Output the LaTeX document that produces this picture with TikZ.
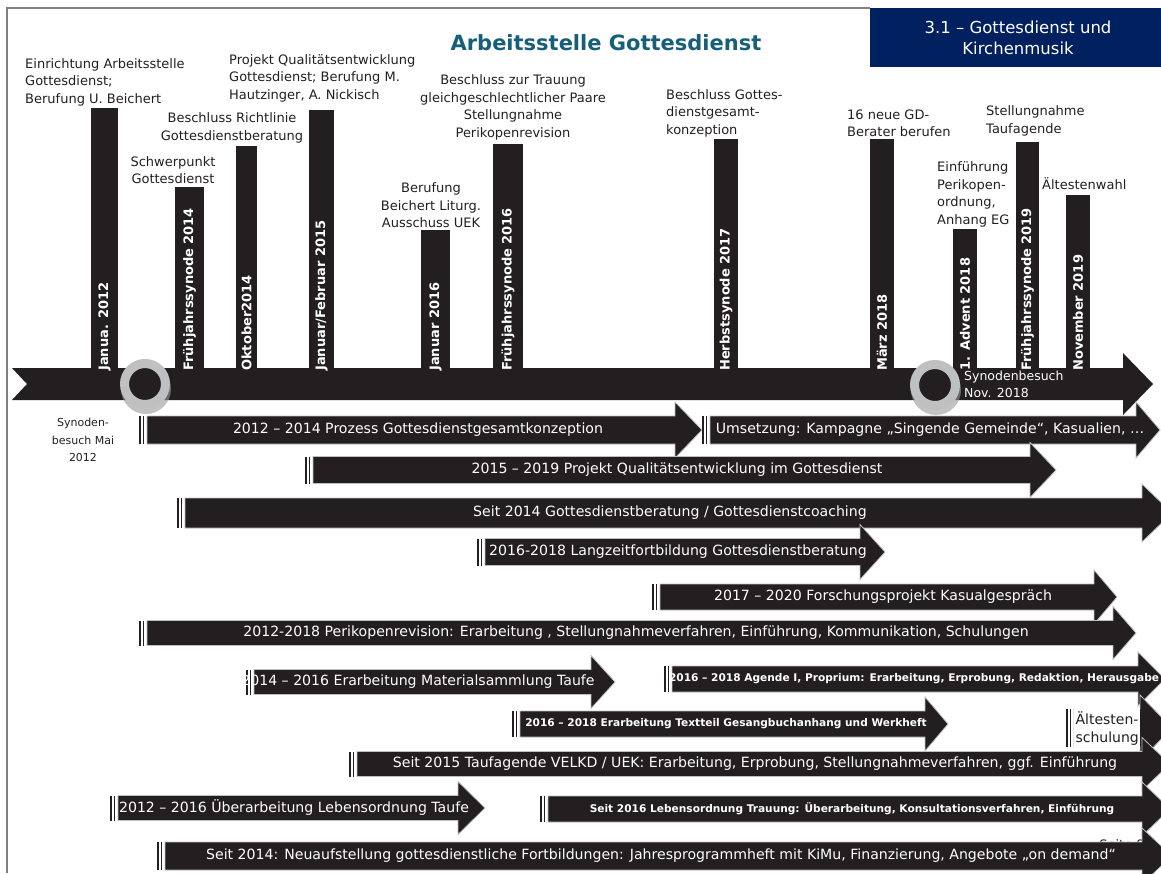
\documentclass[tikz,border=0pt]{standalone}
\usepackage{fontspec}
\setmainfont{DejaVu Sans}
\usetikzlibrary{calc}
\definecolor{ink}{RGB}{35,31,32}
\definecolor{titleteal}{RGB}{22,95,122}
\definecolor{boxblue}{RGB}{0,32,96}
\definecolor{ringgray}{RGB}{190,192,194}
\newcommand\fontreg{\fontsize{14.1}{16}\selectfont}
\newcommand\fontbold{\bfseries\fontsize{10.6}{12}\selectfont}

\begin{document}
\begin{tikzpicture}
	[x=1pt,y=-1pt,
   lbl/.style={text=ink,font=\fontsize{13}{17.5}\selectfont,inner sep=0pt},
   datetxt/.style={text=white,font=\bfseries\fontsize{13}{15}\selectfont,rotate=90,anchor=west,inner sep=0pt},
   phase/.style={fill=ink,draw=black!25,line width=0.8pt},
   ptxt/.style={text=white,inner sep=0pt},
   ring/.style={circle,draw=ringgray,line width=9pt,fill=ink,minimum size=41pt,inner sep=0pt}
  ]
  \useasboundingbox (0,0) rectangle (1161,873);

  % frame and heading
  \draw[black!50,line width=1.2pt] (7,873) -- (7,8) -- (870,8);
  \fill[boxblue] (870,8) rectangle (1161,67);
  \node[text=white,font=\fontsize{16.5}{21}\selectfont,align=center] (kapitel) at (1018,38) {3.1 – Gottesdienst und\\Kirchenmusik};
  \node[text=titleteal,font=\bfseries\fontsize{21}{24}\selectfont] (titel) at (606,43) {Arbeitsstelle Gottesdienst};

  % timeline
  \fill[ink] (12,368) -- (1123,368) -- (1123,353) -- (1153,384) -- (1123,415) -- (1123,400) -- (12,400) -- (27,384) -- cycle;
  \foreach \n/\xl/\xr/\yt/\date in {1/91/118/108/Janua. 2012, 2/175/204/187/Frühjahrssynode 2014,
      3/236/257/146/Oktober2014, 4/309/334/110/Januar\slash Februar 2015, 5/421/450/230/Januar 2016,
      6/493/523/144/Frühjahrssynode 2016, 7/714/738/139/Herbstsynode 2017, 8/870/894/139/März 2018,
      9/953/977/229/1. Advent 2018, 10/1016/1039/142/Frühjahrssynode 2019, 11/1066/1090/195/November 2019}
  {
    \fill[ink] (\xl,\yt) rectangle (\xr,369);
    \node[datetxt] (date\n) at ({(\xl+\xr)/2},371) {\date};
  }

  % notes above the milestones
  \node[lbl,align=left,anchor=south west] (note1) at (25,106) {Einrichtung Arbeitsstelle\\Gottesdienst;\\Berufung U. Beichert};
  \node[lbl,align=center,anchor=south] (note2) at (173,184) {Schwerpunkt\\Gottesdienst};
  \node[lbl,align=center,anchor=south] (note3) at (232,143) {Beschluss Richtlinie\\Gottesdienstberatung};
  \node[lbl,align=left,anchor=south west] (note4) at (229,102) {Projekt Qualitätsentwicklung\\Gottesdienst; Berufung M.\\Hautzinger, A. Nickisch};
  \node[lbl,align=center,anchor=south] (note5) at (431,228) {Berufung\\Beichert Liturg.\\Ausschuss UEK};
  \node[lbl,align=center,anchor=south] (note6) at (513,140) {Beschluss zur Trauung\\gleichgeschlechtlicher Paare\\Stellungnahme\\Perikopenrevision};
  \node[lbl,align=left,anchor=south west] (note7) at (666,137) {Beschluss Gottes-\\dienstgesamt-\\konzeption};
  \node[lbl,align=left,anchor=south west] (note8) at (847,137) {16 neue GD-\\Berater berufen};
  \node[lbl,align=left,anchor=south west] (note9) at (937,227) {Einführung\\Perikopen-\\ordnung,\\Anhang EG};
  \node[lbl,align=left,anchor=south west] (note10) at (986,136) {Stellungnahme\\Taufagende};
  \node[lbl,align=left,anchor=south west] (note11) at (1042,190) {Ältestenwahl};

  % synod visits
  \fill[black!40,opacity=0.6] (146,389) circle (25pt);
  \node[ring] (besuch1) at (145,384) {};
  \fill[black!40,opacity=0.6] (936,390) circle (25pt);
  \node[ring] (besuch2) at (935,385) {};
  \node[lbl,font=\fontsize{11}{17.5}\selectfont,align=center] (besuchtxt1) at (83,440) {Synoden-\\besuch Mai\\2012};
  \node[lbl,text=white,font=\fontsize{12.5}{17}\selectfont,align=left,anchor=west] (besuchtxt2) at (964,384) {Synodenbesuch\\Nov. 2018};

  % page number behind the last bar
  \node[lbl,font=\fontsize{13}{15}\selectfont] (seite) at (1122,845) {Seite 8};

  % phases
  \foreach \n/\c/\h/\xs/\xb/\xt/\tx/\f/\txt in {
      a/430/14/147/675/702/418/\fontreg/{2012 – 2014 Prozess Gottesdienstgesamtkonzeption},
      b/430/14/710/1136/1160/930/\fontreg/{Umsetzung: Kampagne „Singende Gemeinde“, Kasualien, …},
      c/470/13.5/313/1030/1056/677/\fontreg/{2015 – 2019 Projekt Qualitätsentwicklung im Gottesdienst},
      d/513/15/185/1142/1172/670/\fontreg/{Seit 2014 Gottesdienstberatung / Gottesdienstcoaching},
      e/552/13.5/485/860/885/678/\fontreg/{2016-2018 Langzeitfortbildung Gottesdienstberatung},
      f/597/13/660/1094/1117/883/\fontreg/{2017 – 2020 Forschungsprojekt Kasualgespräch},
      g/633/12.5/147/1113/1136/636/\fontreg/{2012-2018 Perikopenrevision: Erarbeitung , Stellungnahmeverfahren, Einführung, Kommunikation, Schulungen},
      h/682/12.5/254/591/615/418/\fontreg/{2014 – 2016 Erarbeitung Materialsammlung Taufe},
      i/679/13/672/1138/1165/914/\fontbold/{2016 – 2018 Agende I, Proprium: Erarbeitung, Erprobung, Redaktion, Herausgabe},
      j/724/13/520/925/948/726/\fontbold/{2016 – 2018 Erarbeitung Textteil Gesangbuchanhang  und Werkheft},
      k/728/19/1074/1140/1172/1107/\fontreg/{},
      l/764/12.5/357/1142/1170/755/\fontreg/{Seit 2015 Taufagende VELKD / UEK: Erarbeitung, Erprobung, Stellungnahmeverfahren, ggf. Einführung},
      m/808/12.5/118/458/485/294/\fontreg/{2012 – 2016 Überarbeitung Lebensordnung Taufe},
      n/809/13/548/1142/1170/852/\fontbold/{Seit 2016 Lebensordnung Trauung: Überarbeitung, Konsultationsverfahren, Einführung},
      o/856/14/165/1142/1172/661/\fontreg/{Seit 2014: Neuaufstellung gottesdienstliche Fortbildungen: Jahresprogrammheft mit KiMu, Finanzierung, Angebote „on demand“}}
  {
    \filldraw[phase] (\xs,\c-\h) -- (\xb,\c-\h) -- (\xb,\c-\h-14) -- (\xt,\c) -- (\xb,\c+\h+14) -- (\xb,\c+\h) -- (\xs,\c+\h) -- cycle;
    \fill[ink] (\xs-8,\c-\h) rectangle (\xs-6,\c+\h);
    \fill[ink] (\xs-4.5,\c-\h) rectangle (\xs-3,\c+\h);
    \node[ptxt,font=\f] (phase-\n) at (\tx,\c) {\txt};
  }
  \node[lbl,fill=white,font=\fontsize{14}{18}\selectfont,align=left,anchor=north west,inner sep=1pt,
        minimum width=66pt,minimum height=41pt] (aeltesten) at (1074,708) {Ältesten-\\schulung};

\end{tikzpicture}
\end{document}
